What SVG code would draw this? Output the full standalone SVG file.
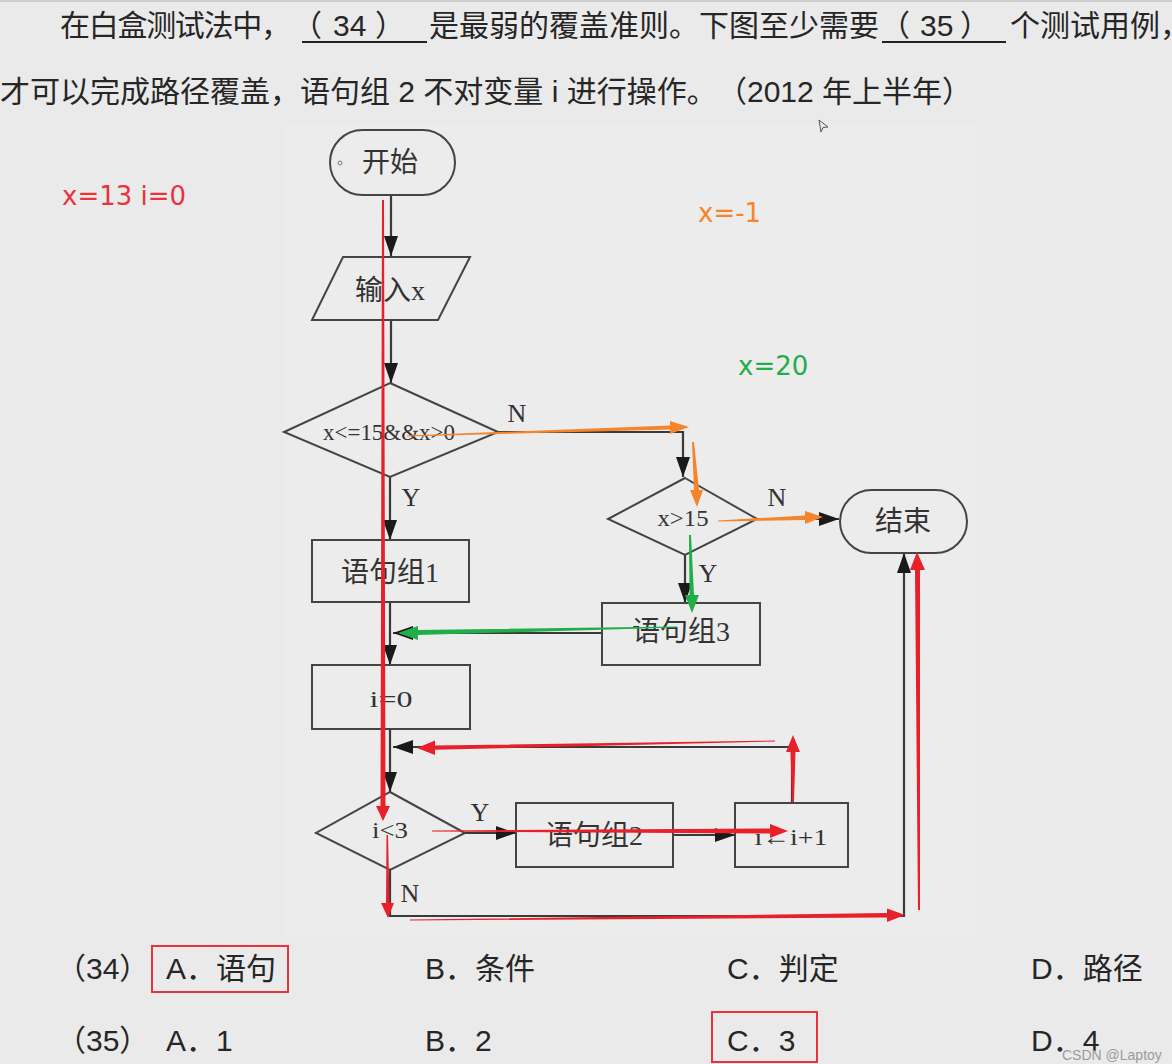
<svg xmlns="http://www.w3.org/2000/svg" width="1172" height="1064" viewBox="0 0 1172 1064">
<style>
.q{font-family:"Liberation Sans","Noto Sans CJK SC",sans-serif;font-size:30px;fill:#262626;text-spacing-trim:space-all}
.n{font-family:"Liberation Serif","Noto Sans CJK SC",serif;font-size:28px;fill:#333;text-anchor:middle}
.m{font-family:"Liberation Serif",serif;font-size:24px;fill:#333;text-anchor:middle}
.yn{font-family:"Liberation Serif",serif;font-size:26px;fill:#333;text-anchor:middle}
.shape{fill:none;stroke:#444;stroke-width:2}
.conn{fill:none;stroke:#3a3a3a;stroke-width:2.2}
.lab{font-family:"DejaVu Sans",sans-serif;font-size:26px}
.red{fill:#e8202a}
.org{fill:#f5842b}
.grn{fill:#20ae48}
</style>
<defs>
<marker id="ah" viewBox="0 0 20 14" refX="20" refY="7" markerWidth="20" markerHeight="14" markerUnits="userSpaceOnUse" orient="auto">
<path d="M0,0 L20,7 L0,14 z" fill="#1a1a1a"/>
</marker>
</defs>
<rect width="1172" height="1064" fill="#eaeaea"/>
<rect x="283" y="125" width="692" height="810" fill="#ececec"/>
<line x1="0" y1="1" x2="1172" y2="1" stroke="#cfcfcf" stroke-width="2"/>

<g id="question">
<text class="q" y="36"><tspan x="60" textLength="231" lengthAdjust="spacing">在白盒测试法中，</tspan><tspan x="292">（</tspan><tspan x="333">34</tspan><tspan x="375">）</tspan><tspan x="429">是最弱的覆盖准则。下图至少需要</tspan><tspan x="880">（</tspan><tspan x="920">35</tspan><tspan x="960">）</tspan><tspan x="1010">个测试用例，</tspan></text>
<line x1="302" y1="42" x2="427" y2="42" stroke="#222" stroke-width="2"/>
<line x1="882" y1="42" x2="1006" y2="42" stroke="#222" stroke-width="2"/>
<text class="q" y="102"><tspan x="0">才可以完成路径覆盖，语句组 2 不对变量 i 进行操作。</tspan><tspan x="717">（2012 年上半年）</tspan></text>
<path d="M819,120 L828,127 L823,127.5 L821,132 z" fill="none" stroke="#555" stroke-width="1"/>
</g>

<g id="connectors">
<line class="conn" x1="391" y1="195" x2="391" y2="256" marker-end="url(#ah)"/>
<line class="conn" x1="391" y1="320" x2="391" y2="383" marker-end="url(#ah)"/>
<polyline class="conn" points="498,432 683,432 683,477" marker-end="url(#ah)"/>
<line class="conn" x1="390" y1="477" x2="390" y2="540" marker-end="url(#ah)"/>
<line class="conn" x1="685" y1="555" x2="685" y2="603" marker-end="url(#ah)"/>
<line class="conn" x1="757" y1="519" x2="839" y2="519" marker-end="url(#ah)"/>
<line class="conn" x1="602" y1="633" x2="393" y2="633" marker-end="url(#ah)"/>
<line class="conn" x1="390" y1="602" x2="390" y2="665" marker-end="url(#ah)"/>
<line class="conn" x1="390" y1="729" x2="390" y2="792" marker-end="url(#ah)"/>
<polyline class="conn" points="792,803 792,747 393,747" marker-end="url(#ah)"/>
<line class="conn" x1="465" y1="833" x2="516" y2="833" marker-end="url(#ah)"/>
<line class="conn" x1="673" y1="835" x2="735" y2="835" marker-end="url(#ah)"/>
<polyline class="conn" points="390,870 390,916 904,916 904,553" marker-end="url(#ah)"/>
<text class="yn" x="517" y="422">N</text>
<text class="yn" x="411" y="506">Y</text>
<text class="yn" x="777" y="506">N</text>
<text class="yn" x="708" y="582">Y</text>
<text class="yn" x="480" y="821">Y</text>
<text class="yn" x="410" y="902">N</text>
</g>

<g id="start">
<rect class="shape" x="330" y="130" width="125" height="65" rx="32.5"/>
<circle cx="340" cy="163" r="2" fill="none" stroke="#777" stroke-width="1"/>
<text class="n" x="390" y="172">开始</text>
</g>
<g id="input">
<polygon class="shape" points="343,257 470,257 438,320 312,320"/>
<text class="n" x="390" y="300">输入x</text>
</g>
<g id="cond1">
<polygon class="shape" points="390,383 498,432 390,477 284,432"/>
<text class="m" x="389" y="440" textLength="132" lengthAdjust="spacingAndGlyphs">x&lt;=15&amp;&amp;x&gt;0</text>
</g>
<g id="stmt1">
<rect class="shape" x="312" y="540" width="157" height="62"/>
<text class="n" x="390" y="582">语句组1</text>
</g>
<g id="cond2">
<polygon class="shape" points="685,478 757,519 685,555 608,519"/>
<text class="m" x="683" y="526" textLength="51" lengthAdjust="spacingAndGlyphs">x&gt;15</text>
</g>
<g id="end">
<rect class="shape" x="840" y="490" width="127" height="63" rx="31.5"/>
<text class="n" x="903" y="531">结束</text>
</g>
<g id="stmt3">
<rect class="shape" x="602" y="603" width="158" height="62"/>
<text class="n" x="681" y="641">语句组3</text>
</g>
<g id="init">
<rect class="shape" x="312" y="665" width="158" height="64"/>
<text class="m" x="391" y="707" font-size="29" textLength="43" lengthAdjust="spacingAndGlyphs">i=0</text>
</g>
<g id="cond3">
<polygon class="shape" points="390,792 465,833 390,870 316,833"/>
<text class="m" x="390" y="838" textLength="36" lengthAdjust="spacingAndGlyphs">i&lt;3</text>
</g>
<g id="stmt2">
<rect class="shape" x="516" y="803" width="157" height="64"/>
<text class="n" x="594" y="845">语句组2</text>
</g>
<g id="incr">
<rect class="shape" x="735" y="803" width="113" height="64"/>
<text class="m" x="791" y="845" textLength="73" lengthAdjust="spacingAndGlyphs" font-size="28">i←i+1</text>
</g>

<g id="annotations">
<text class="lab" x="62" y="205" fill="#e8333c">x=13 i=0</text>
<text class="lab" x="698" y="222" fill="#f5842b">x=-1</text>
<text class="lab" x="738" y="375" fill="#22ad4a">x=20</text>
<polygon class="red" points="382,200 384,200 385.5,806 390,806 383,821 376,806 380.5,806"/>
<polygon class="red" points="432,830.5 770,828.5 770,824 788,831 770,838 770,833.5 432,831.5"/>
<polygon class="red" points="792,802 790.5,752 786,752 793,735 800,752 795.5,752 794,802"/>
<polygon class="red" points="775,740.5 435,745.5 435,740.5 417,748 435,755 435,749.8 775,741.5"/>
<polygon class="red" points="386.5,835 386,903 381,903 388,918 394,903 389.5,903 388,835"/>
<polygon class="red" points="410,919.5 887,913 887,908.5 905,915 887,922 887,917.5 410,920.5"/>
<polygon class="red" points="918,910 915,570 910,570 917,552 925,570 920,570 920,910"/>
<polygon class="org" points="407,435.5 670,425.5 670,421 689,427 670,434 670,429.5 407,436.5"/>
<polygon class="org" points="692,442 694,490 690,490 697,507 703,490 699,490 694,442"/>
<polygon class="org" points="718,520.5 805,515.5 805,511 823,517 805,524 805,520 718,521.5"/>
<polygon class="grn" points="689,535 689.5,595 685,595 692,613 699,595 694,595 691,535"/>
<polygon class="grn" points="677,626.5 418,630 418,626 398,633 418,640 418,635 677,627.5"/>
</g>

<g id="answers">
<text class="q" x="56" y="979">（34）</text>
<rect x="152" y="946" width="136" height="46" fill="none" stroke="#e8333c" stroke-width="2"/>
<text class="q" x="166" y="979">A．语句</text>
<text class="q" x="425" y="979">B．条件</text>
<text class="q" x="727" y="979">C．判定</text>
<text class="q" x="1031" y="979">D．路径</text>
<text class="q" x="56" y="1051">（35）</text>
<text class="q" x="166" y="1051">A．1</text>
<text class="q" x="425" y="1051">B．2</text>
<rect x="712" y="1012" width="105" height="50" fill="none" stroke="#e8333c" stroke-width="2"/>
<text class="q" x="727" y="1051">C．3</text>
<text class="q" x="1031" y="1051">D．4</text>
<text x="1062" y="1060" font-family="Liberation Sans,sans-serif" font-size="14" fill="#9a9a9a">CSDN @Laptoy</text>
</g>
</svg>
